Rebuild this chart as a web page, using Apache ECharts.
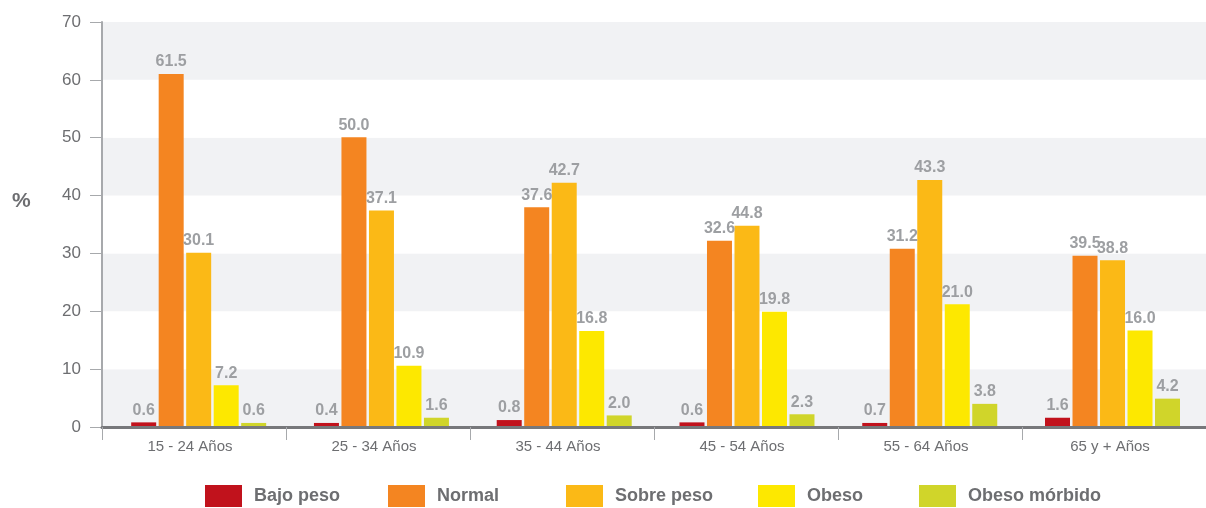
<!DOCTYPE html>
<html>
<head>
<meta charset="utf-8">
<script src="https://cdn.jsdelivr.net/npm/echarts@6/dist/echarts.min.js"></script>
<style>
html,body{margin:0;padding:0;background:#fff;}
#chart{width:1206px;height:508px;}
</style>
</head>
<body>
<div id="chart"></div>
<script>
const categories = ['15 - 24 Años', '25 - 34 Años', '35 - 44 Años', '45 - 54 Años', '55 - 64 Años', '65 y + Años'];
const seriesNames = ['Bajo peso', 'Normal', 'Sobre peso', 'Obeso', 'Obeso mórbido'];
const yTicks = [0, 10, 20, 30, 40, 50, 60, 70];

// Printed values (data labels)
const bajoPeso = [0.6, 0.4, 0.8, 0.6, 0.7, 1.6];
const normal = [61.5, 50.0, 37.6, 32.6, 31.2, 39.5];
const sobrePeso = [30.1, 37.1, 42.7, 44.8, 43.3, 38.8];
const obeso = [7.2, 10.9, 16.8, 19.8, 21.0, 16.0];
const obesoMorbido = [0.6, 1.6, 2.0, 2.3, 3.8, 4.2];

// Bar heights as drawn in the reference (three bars are drawn ~10 points below their printed label)
const bajoPesoBars = [0.8, 0.7, 1.2, 0.8, 0.7, 1.6];
const normalBars = [61.0, 50.1, 38.0, 32.2, 30.8, 29.6];
const sobrePesoBars = [30.1, 37.4, 42.2, 34.8, 42.7, 28.8];
const obesoBars = [7.2, 10.6, 16.6, 19.9, 21.2, 16.7];
const obesoMorbidoBars = [0.7, 1.6, 2.0, 2.2, 4.0, 4.9];

const labelSets = [bajoPeso, normal, sobrePeso, obeso, obesoMorbido];
const barSets = [bajoPesoBars, normalBars, sobrePesoBars, obesoBars, obesoMorbidoBars];
const colors = ['#c1121c', '#f48521', '#fbb916', '#fde800', '#d0d52a'];
const legendLefts = [205, 388, 566, 758, 919];
const FONT = '"Liberation Sans", Arial, Helvetica, sans-serif';

const chart = echarts.init(document.getElementById('chart'), null, {renderer: 'canvas'});

const series = seriesNames.map((name, i) => ({
  name: name,
  type: 'bar',
  xAxisIndex: 1,
  yAxisIndex: 1,
  data: barSets[i],
  barWidth: 25,
  barGap: '10%',
  itemStyle: {color: colors[i]},
  label: {
    show: true,
    position: 'top',
    distance: 4,
    color: '#9d9fa2',
    fontWeight: 'bold',
    fontSize: 16,
    fontFamily: FONT,
    formatter: p => labelSets[i][p.dataIndex].toFixed(1)
  }
}));

const legends = seriesNames.map((name, i) => ({
  data: [name],
  left: legendLefts[i],
  top: 485,
  padding: 0,
  icon: 'rect',
  itemWidth: 37,
  itemHeight: 22,
  selectedMode: false,
  textStyle: {color: '#6d6e71', fontWeight: 'bold', fontSize: 18, fontFamily: FONT, padding: [2, 0, 0, 7]}
}));

const option = {
  animation: false,
  textStyle: {fontFamily: FONT},
  color: colors,
  grid: [
    {left: 102, right: 0, top: 22, bottom: 81},
    {left: 107.3, right: 2.1, top: 22, bottom: 81}
  ],
  legend: legends,
  xAxis: [
    {
      type: 'category', gridIndex: 0, data: categories, z: 10,
      axisLine: {lineStyle: {color: '#77787b', width: 3}},
      axisTick: {show: true, length: 13, lineStyle: {color: '#a7a9ac', width: 1}},
      axisLabel: {color: '#6d6e71', fontSize: 15, margin: 12, padding: [0, 8, 0, 0], interval: 0}
    },
    {type: 'category', gridIndex: 1, data: categories, show: false}
  ],
  yAxis: [
    {
      type: 'value', gridIndex: 0, min: yTicks[0], max: yTicks[yTicks.length - 1], interval: 10,
      axisLine: {show: true, lineStyle: {color: '#a7a9ac', width: 2}},
      axisTick: {show: true, length: 12, lineStyle: {color: '#a7a9ac', width: 1}},
      axisLabel: {color: '#6d6e71', fontSize: 17, margin: 21},
      splitLine: {show: false},
      splitArea: {show: true, areaStyle: {color: ['#f1f2f4', '#ffffff']}}
    },
    {
      type: 'value', gridIndex: 1, min: yTicks[0], max: yTicks[yTicks.length - 1], interval: 10,
      show: false, splitLine: {show: false}
    }
  ],
  graphic: [
    {type: 'text', left: 12, top: 191, style: {text: '%', font: 'bold 21px ' + FONT, fill: '#6d6e71'}}
  ],
  series: series
};
chart.setOption(option);
</script>
</body>
</html>
